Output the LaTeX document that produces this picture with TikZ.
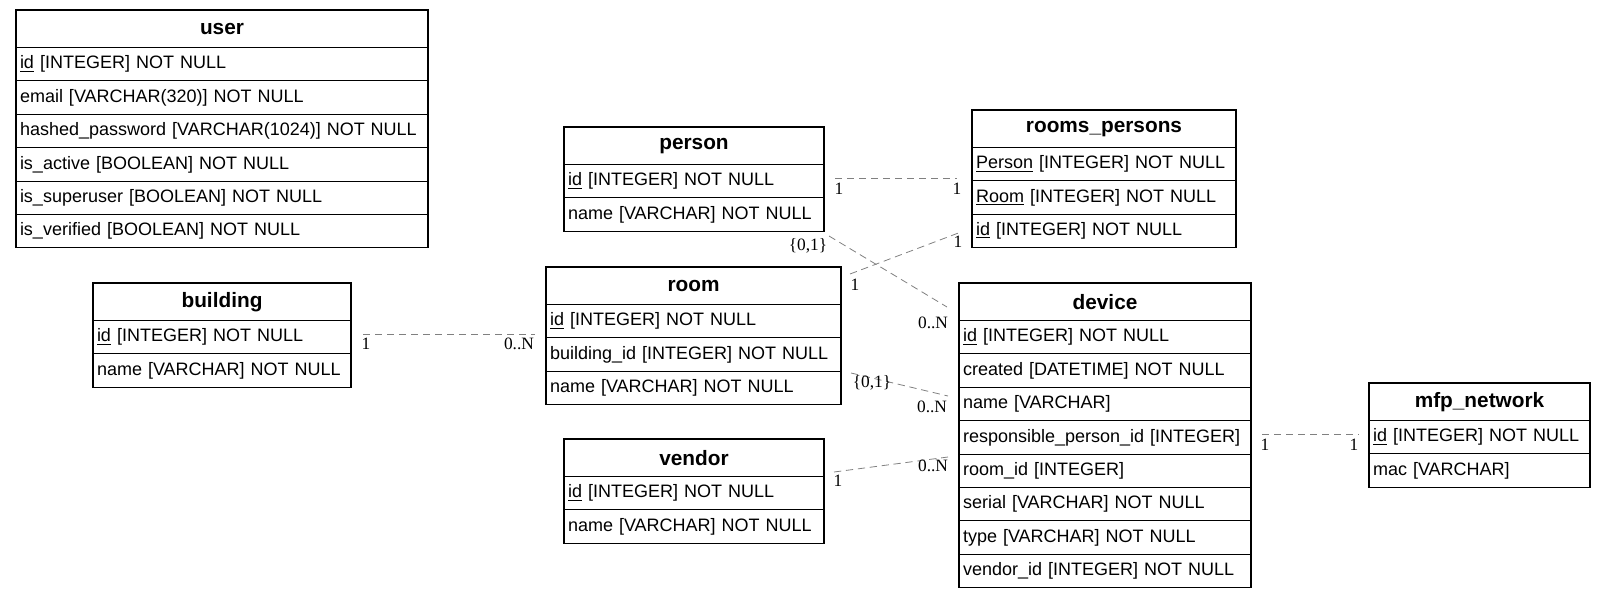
\documentclass[tikz,border=0pt]{standalone}
\usepackage{fontspec}
\setmainfont{Liberation Sans}
\newfontfamily\lblfont{Liberation Serif}
\usetikzlibrary{calc}
\tikzset{
  tbl/.style={draw=black, line width=0.8pt, anchor=north west, inner xsep=3pt, inner ysep=0pt, outer sep=0pt},
  hdr/.style={tbl, minimum height=28.1pt, font=\fontsize{15.6}{18}\selectfont\bfseries, align=center},
  fld/.style={tbl, minimum height=25.05pt, font=\fontsize{13.5}{16}\selectfont, align=left},
  rel/.style={draw=black!50, line width=0.6pt, dash pattern=on 5.5pt off 3.5pt},
  card/.style={font=\lblfont\fontsize{13}{15}\selectfont, inner sep=0pt, text=black}
}
\newcommand\erdtable[6]{%
  \pgfmathsetlengthmacro\tw{#4*0.75-6}%
  \node[hdr, text width=\tw] (#1) at (#2,#3) {#5};
  \xdef\prevrow{#1}%
  \foreach \r [count=\i] in {#6} {
    \node[fld, text width=\tw] (#1-\i) at (\prevrow.south west) {\r};
    \xdef\prevrow{#1-\i}%
  }
}
\begin{document}
\begin{tikzpicture}[x=0.75pt,y=-0.75pt]
\useasboundingbox (0,0) rectangle (1607,597);
% tables
\erdtable{user}{16}{10}{412}{user}{{\underline{id} [INTEGER] NOT NULL},{email [VARCHAR(320)] NOT NULL},{hashed\_password [VARCHAR(1024)] NOT NULL},{is\_active [BOOLEAN] NOT NULL},{is\_superuser [BOOLEAN] NOT NULL},{is\_verified [BOOLEAN] NOT NULL}}
\erdtable{building}{93}{283}{258}{building}{{\underline{id} [INTEGER] NOT NULL},{name [VARCHAR] NOT NULL}}
\erdtable{person}{564}{127}{260}{person}{{\underline{id} [INTEGER] NOT NULL},{name [VARCHAR] NOT NULL}}
\erdtable{room}{546}{267}{295}{room}{{\underline{id} [INTEGER] NOT NULL},{building\_id [INTEGER] NOT NULL},{name [VARCHAR] NOT NULL}}
\erdtable{vendor}{564}{439}{260}{vendor}{{\underline{id} [INTEGER] NOT NULL},{name [VARCHAR] NOT NULL}}
\erdtable{roomsp}{972}{110}{264}{rooms\_persons}{{\underline{Person} [INTEGER] NOT NULL},{\underline{Room} [INTEGER] NOT NULL},{\underline{id} [INTEGER] NOT NULL}}
\erdtable{device}{959}{283}{292}{device}{{\underline{id} [INTEGER] NOT NULL},{created [DATETIME] NOT NULL},{name [VARCHAR]},{responsible\_person\_id [INTEGER]},{room\_id [INTEGER]},{serial [VARCHAR] NOT NULL},{type [VARCHAR] NOT NULL},{vendor\_id [INTEGER] NOT NULL}}
\erdtable{mfp}{1369}{383}{221}{mfp\_network}{{\underline{id} [INTEGER] NOT NULL},{mac [VARCHAR]}}
% connector end points
\coordinate (bA) at (363,334);  \coordinate (bB) at (535,334);
\coordinate (pA) at (835,178);  \coordinate (pB) at (957,178);
\coordinate (pdA) at (829,236); \coordinate (pdB) at (947,307);
\coordinate (rpA) at (850,274); \coordinate (rpB) at (961,232);
\coordinate (rdA) at (851,373); \coordinate (rdB) at (948,396);
\coordinate (vdA) at (834,472); \coordinate (vdB) at (948,457);
\coordinate (mA) at (1262,434); \coordinate (mB) at (1359,434);
% connectors
\draw[rel] (bA) -- (bB);
\draw[rel] (pA) -- (pB);
\draw[rel] (pdA) -- (pdB);
\draw[rel] (rpA) -- (rpB);
\draw[rel] (rdA) -- (rdB);
\draw[rel] (vdA) -- (vdB);
\draw[rel] (mA) -- (mB);
% cardinalities
\node[card] (lb1) at (366,344) {1};
\node[card] (lb2) at (519,344) {0..N};
\node[card] (lp1) at (839,189) {1};
\node[card] (lp2) at (957,189) {1};
\node[card] (lpd1) at (808,246) {\{0,1\}};
\node[card] (lpd2) at (933,323) {0..N};
\node[card] (lrp1) at (855,285) {1};
\node[card] (lrp2) at (958,242) {1};
\node[card] (lrd1) at (872,383) {\{0,1\}};
\node[card] (lrd2) at (932,407) {0..N};
\node[card] (lvd1) at (838,481) {1};
\node[card] (lvd2) at (933,466) {0..N};
\node[card] (lm1) at (1265,445) {1};
\node[card] (lm2) at (1354,445) {1};
\end{tikzpicture}
\end{document}
